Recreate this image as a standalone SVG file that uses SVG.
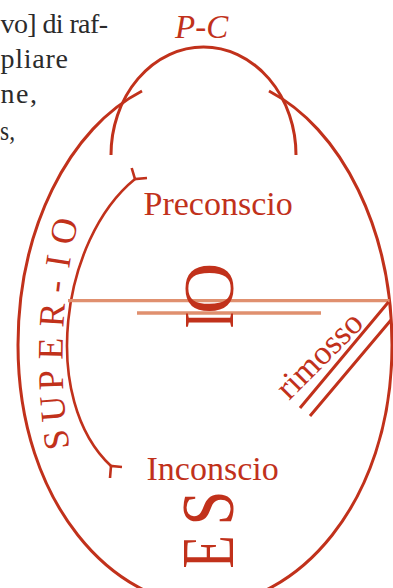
<svg xmlns="http://www.w3.org/2000/svg" width="393" height="588" viewBox="0 0 393 588">
<style>
.r{fill:none;stroke:#c1311b;stroke-width:3}
.a{fill:none;stroke:#c1311b;stroke-width:2.6}
.s{fill:none;stroke:#e0906f;stroke-width:3.3}
.t{font-family:"Liberation Serif",serif;fill:#c1311b}
.body{font-family:"Liberation Serif",serif;fill:#2b2b2b;font-size:28px}
</style>
<defs>
<path id="superPath" d="M74,470 C58,400 58,300 80,215" fill="none"/>
</defs>
<rect width="393" height="588" fill="#fff"/>
<g id="body-text" class="body">
<text x="0.5" y="33" textLength="107.5">vo] di raf-</text>
<text x="0.5" y="68" textLength="67.5">pliare</text>
<text x="0.5" y="103" textLength="36.5">ne,</text>
<text x="0" y="140" textLength="15" lengthAdjust="spacingAndGlyphs">s,</text>
</g>
<g id="connectors">
<path id="egg" class="r" d="M142,91 A187,270 0 0 0 18,345 C18,505 115,605 205,605 C295,605 392,505 392,345 A187,270 0 0 0 269,91"/>
<path id="pc-arc" class="r" d="M111,155 A92.5,108 0 0 1 296,155"/>
<path id="superio-arc" class="a" d="M135,179 C60,240 40,400 111,466"/>
<path id="superio-tails" class="a" d="M131.7,168 L135,179 L147,178 M122,467 L111,466 L110,478"/>
<path id="threshold" class="s" d="M68,300.7 H389.5 M137,313 H321"/>
<path id="rimosso-lines" class="r" d="M388.5,302 L300,408 M391,320 L310,416"/>
</g>
<g id="pc"><text class="t" x="175" y="38" font-size="33" font-style="italic">P-C</text></g>
<g id="preconscio"><text class="t" x="143.5" y="215" font-size="34">Preconscio</text></g>
<g id="io" class="t" font-size="71" transform="translate(232.5,328) rotate(-90)">
<text transform="translate(-0.6,0) scale(0.71,1)">I</text>
<text x="14">O</text>
</g>
<g id="rimosso"><text class="t" font-size="34" transform="translate(289,401) rotate(-45)">rimosso</text></g>
<g id="inconscio"><text class="t" x="146.5" y="479.5" font-size="34">Inconscio</text></g>
<g id="es" class="t" font-size="73" transform="translate(233,568) rotate(-90)">
<text transform="translate(-0.6,0) scale(0.747,1)">E</text>
<text transform="translate(42.4,0) scale(0.86,1)">S</text>
</g>
<g id="super-io"><text class="t" font-size="36"><textPath href="#superPath" startOffset="22.6">S<tspan dx="7.4">U</tspan><tspan dx="5">P</tspan><tspan dx="10">E</tspan><tspan dx="10">R</tspan><tspan dx="10">-</tspan><tspan dx="13">I</tspan><tspan dx="11">O</tspan></textPath></text></g>
</svg>
